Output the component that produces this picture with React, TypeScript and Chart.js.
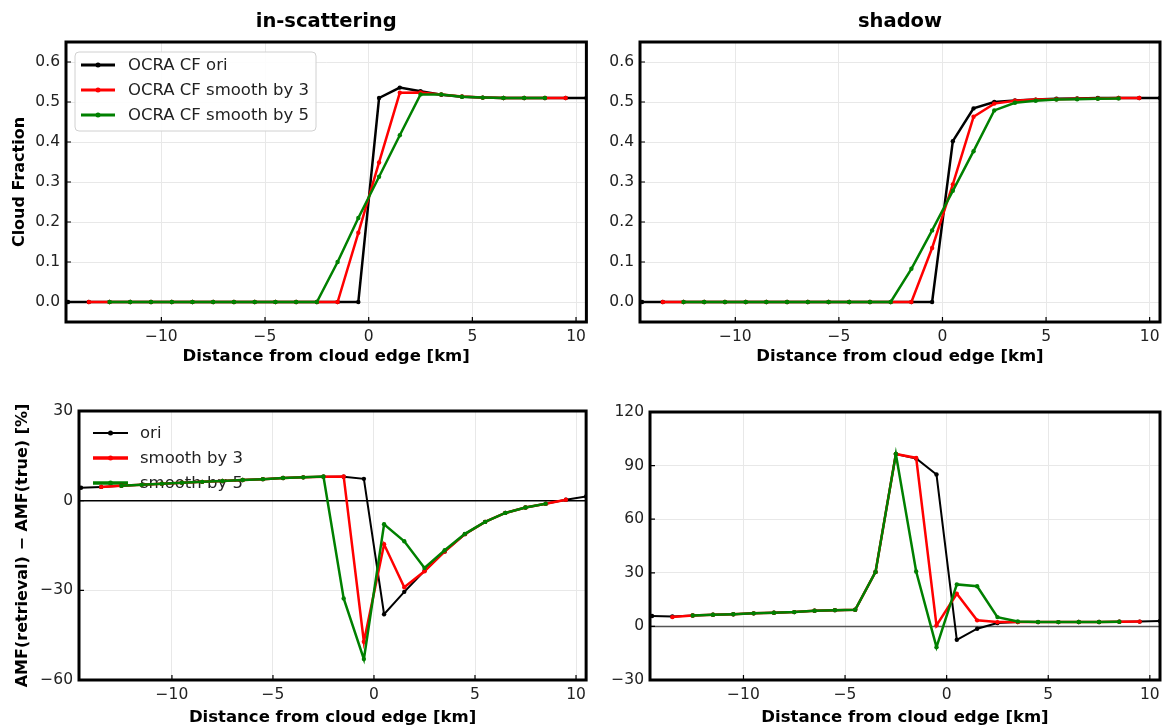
import React, { useEffect, useRef } from "react";
import { Chart, registerables } from "chart.js";

Chart.register(...registerables);

const FONT = "'DejaVu Sans', 'Liberation Sans', sans-serif";

// x positions (km from cloud edge) for each series
const X_ORI = [-14.5, -13.5, -12.5, -11.5, -10.5, -9.5, -8.5, -7.5, -6.5, -5.5, -4.5, -3.5, -2.5, -1.5, -0.5, 0.5, 1.5, 2.5, 3.5, 4.5, 5.5, 6.5, 7.5, 8.5, 9.5, 10.5];
const X_S3 = [-13.5, -12.5, -11.5, -10.5, -9.5, -8.5, -7.5, -6.5, -5.5, -4.5, -3.5, -2.5, -1.5, -0.5, 0.5, 1.5, 2.5, 3.5, 4.5, 5.5, 6.5, 7.5, 8.5, 9.5];
const X_S5 = [-12.5, -11.5, -10.5, -9.5, -8.5, -7.5, -6.5, -5.5, -4.5, -3.5, -2.5, -1.5, -0.5, 0.5, 1.5, 2.5, 3.5, 4.5, 5.5, 6.5, 7.5, 8.5];

// Cloud fraction, in-scattering
const CF_IN_ORI = [0, 0, 0, 0, 0, 0, 0, 0, 0, 0, 0, 0, 0, 0, 0, 0.51, 0.536, 0.527, 0.518, 0.513, 0.511, 0.51, 0.51, 0.51, 0.51, 0.51];
const CF_IN_S3 = [0, 0, 0, 0, 0, 0, 0, 0, 0, 0, 0, 0, 0, 0.173, 0.349, 0.523, 0.524, 0.519, 0.514, 0.511, 0.51, 0.51, 0.51, 0.51];
const CF_IN_S5 = [0, 0, 0, 0, 0, 0, 0, 0, 0, 0, 0, 0.1, 0.21, 0.313, 0.417, 0.519, 0.519, 0.513, 0.511, 0.51, 0.51, 0.51];

// Cloud fraction, shadow
const CF_SH_ORI = [0, 0, 0, 0, 0, 0, 0, 0, 0, 0, 0, 0, 0, 0, 0, 0.402, 0.484, 0.5, 0.504, 0.506, 0.508, 0.509, 0.51, 0.51, 0.51, 0.51];
const CF_SH_S3 = [0, 0, 0, 0, 0, 0, 0, 0, 0, 0, 0, 0, 0, 0.135, 0.294, 0.463, 0.496, 0.503, 0.506, 0.507, 0.508, 0.509, 0.51, 0.51];
const CF_SH_S5 = [0, 0, 0, 0, 0, 0, 0, 0, 0, 0, 0, 0.083, 0.179, 0.278, 0.377, 0.479, 0.498, 0.503, 0.506, 0.507, 0.508, 0.509];

// AMF error [%], in-scattering
const AMF_IN_ORI = [4.3, 4.6, 5.0, 5.3, 5.7, 6.0, 6.3, 6.6, 6.9, 7.2, 7.6, 7.8, 8.0, 8.0, 7.3, -38, -30.5, -23.5, -17, -11.2, -7.1, -4.1, -2.3, -1.0, 0.3, 1.4];
const AMF_IN_S3 = [4.6, 5.0, 5.3, 5.7, 6.0, 6.3, 6.6, 6.9, 7.2, 7.6, 7.8, 8.0, 8.1, -47.2, -14.6, -29, -23.6, -17, -11.2, -7.1, -4.1, -2.3, -1.0, 0.3];
const AMF_IN_S5 = [5.0, 5.3, 5.7, 6.0, 6.3, 6.6, 6.9, 7.2, 7.6, 7.8, 8.1, -32.7, -53, -7.9, -13.6, -22.5, -16.6, -11.1, -7.1, -4.1, -2.3, -1.0];

// AMF error [%], shadow
const AMF_SH_ORI = [5.8, 5.6, 6.1, 6.5, 6.8, 7.3, 7.6, 8.0, 8.8, 9.1, 9.3, 30.5, 96.5, 94, 85, -7.5, -1.3, 1.9, 2.4, 2.4, 2.4, 2.5, 2.5, 2.6, 2.7, 3.0];
const AMF_SH_S3 = [5.2, 6.1, 6.5, 6.8, 7.3, 7.6, 8.0, 8.8, 9.1, 9.3, 30.5, 96.5, 94.3, 0.6, 18.3, 3.4, 2.4, 2.4, 2.4, 2.4, 2.5, 2.5, 2.6, 2.7];
const AMF_SH_S5 = [6.1, 6.5, 6.8, 7.3, 7.6, 8.0, 8.8, 9.1, 9.3, 30.5, 96.5, 30.7, -11.6, 23.5, 22.5, 5.2, 2.8, 2.5, 2.4, 2.5, 2.5, 2.6];

const LEGEND_TOP = ["OCRA CF ori", "OCRA CF smooth by 3", "OCRA CF smooth by 5"];
const LEGEND_BOTTOM = ["ori", "smooth by 3", "smooth by 5"];
const COLORS = ["#000000", "#ff0000", "#008000"];

const X_TICKS = [-10, -5, 0, 5, 10];
const CF_TICKS = [0, 0.1, 0.2, 0.3, 0.4, 0.5, 0.6];
const AMF_IN_TICKS = [-60, -30, 0, 30];
const AMF_SH_TICKS = [-30, 0, 30, 60, 90, 120];

const X_TITLE = "Distance from cloud edge [km]";

function fmt(v: number, decimals: number) {
  return (decimals > 0 ? v.toFixed(decimals) : String(Math.round(v))).replace("-", "\u2212");
}

type LegendCfg = {
  labels: string[];
  widths: number[];
  frame: boolean;
  onTop: boolean;
  frameBox?: [number, number, number, number];
  rows: number[];
  lineX: [number, number];
  textX: number;
};

type PanelCfg = {
  left: number;
  top: number;
  w: number;
  h: number;
  title?: string;
  yTitle?: string;
  yTitlePad: number;
  yMin: number;
  yMax: number;
  yTicks: number[];
  decimals: number;
  xs: number[][];
  ys: number[][];
  lw: number[];
  yAxisW: number;
  padTop: number;
  padRight: number;
  xTitlePadBottom: number;
  zero: boolean;
  zeroColor: string;
  legend?: LegendCfg;
};

function drawLegend(chart: any, L: LegendCfg) {
  const ctx = chart.ctx as CanvasRenderingContext2D;
  const ca = chart.chartArea;
  ctx.save();
  if (L.frame && L.frameBox) {
    const [dx, dy, w, h] = L.frameBox;
    const x = ca.left + dx;
    const y = ca.top + dy;
    const r = 4;
    ctx.beginPath();
    ctx.moveTo(x + r, y);
    ctx.lineTo(x + w - r, y);
    ctx.quadraticCurveTo(x + w, y, x + w, y + r);
    ctx.lineTo(x + w, y + h - r);
    ctx.quadraticCurveTo(x + w, y + h, x + w - r, y + h);
    ctx.lineTo(x + r, y + h);
    ctx.quadraticCurveTo(x, y + h, x, y + h - r);
    ctx.lineTo(x, y + r);
    ctx.quadraticCurveTo(x, y, x + r, y);
    ctx.closePath();
    ctx.fillStyle = "rgba(255,255,255,0.9)";
    ctx.fill();
    ctx.strokeStyle = "#d0d0d0";
    ctx.lineWidth = 1;
    ctx.stroke();
  }
  L.labels.forEach((label, i) => {
    const y = ca.top + L.rows[i];
    const x0 = ca.left + L.lineX[0];
    const x1 = ca.left + L.lineX[1];
    ctx.strokeStyle = COLORS[i];
    ctx.lineWidth = L.widths[i];
    ctx.beginPath();
    ctx.moveTo(x0, y);
    ctx.lineTo(x1, y);
    ctx.stroke();
    ctx.fillStyle = COLORS[i];
    ctx.beginPath();
    ctx.arc((x0 + x1) / 2, y, 2.5, 0, Math.PI * 2);
    ctx.fill();
    ctx.fillStyle = "#222";
    ctx.font = `16.5px ${FONT}`;
    ctx.textBaseline = "middle";
    ctx.textAlign = "left";
    ctx.fillText(label, ca.left + L.textX, y + 1);
  });
  ctx.restore();
}

function makeDeco(cfg: PanelCfg) {
  return {
    id: "deco",
    beforeDatasetsDraw(chart: any) {
      const ctx = chart.ctx as CanvasRenderingContext2D;
      const ca = chart.chartArea;
      if (cfg.zero) {
        const y = chart.scales.y.getPixelForValue(0);
        ctx.save();
        ctx.strokeStyle = cfg.zeroColor;
        ctx.lineWidth = 1.5;
        ctx.beginPath();
        ctx.moveTo(ca.left, y);
        ctx.lineTo(ca.right, y);
        ctx.stroke();
        ctx.restore();
      }
      if (cfg.legend && !cfg.legend.onTop) drawLegend(chart, cfg.legend);
    },
    afterDatasetsDraw(chart: any) {
      if (cfg.legend && cfg.legend.onTop) drawLegend(chart, cfg.legend);
    },
    afterDraw(chart: any) {
      const ctx = chart.ctx as CanvasRenderingContext2D;
      const ca = chart.chartArea;
      ctx.save();
      ctx.strokeStyle = "#000";
      ctx.lineWidth = 1.2;
      ctx.beginPath();
      X_TICKS.forEach((v) => {
        const px = chart.scales.x.getPixelForValue(v);
        ctx.moveTo(px, ca.bottom);
        ctx.lineTo(px, ca.bottom - 5);
      });
      cfg.yTicks.forEach((v) => {
        const py = chart.scales.y.getPixelForValue(v);
        ctx.moveTo(ca.left, py);
        ctx.lineTo(ca.left + 5, py);
      });
      ctx.stroke();
      ctx.lineWidth = 3;
      ctx.strokeRect(ca.left, ca.top, ca.right - ca.left, ca.bottom - ca.top);
      ctx.restore();
    },
  };
}

function buildConfig(cfg: PanelCfg): any {
  const datasets = cfg.ys.map((ys, i) => ({
    label: (cfg.legend ? cfg.legend.labels : LEGEND_BOTTOM)[i],
    data: cfg.xs[i].map((x, j) => ({ x, y: ys[j] })),
    borderColor: COLORS[i],
    backgroundColor: COLORS[i],
    borderWidth: cfg.lw[i],
    pointRadius: 2.2,
    pointBorderWidth: 0,
    pointBackgroundColor: COLORS[i],
    tension: 0,
    order: 3 - i,
  }));
  return {
    type: "line",
    data: { datasets },
    plugins: [makeDeco(cfg)],
    options: {
      responsive: false,
      animation: false,
      layout: { padding: { left: 0, right: cfg.padRight, top: cfg.padTop, bottom: 0 } },
      plugins: {
        legend: { display: false },
        tooltip: { enabled: false },
        title: {
          display: !!cfg.title,
          text: cfg.title || "",
          fullSize: false,
          color: "#000",
          font: { family: FONT, size: 19.5, weight: "bold", lineHeight: 1.2 },
          padding: { top: 10, bottom: 8.6 },
        },
      },
      scales: {
        x: {
          type: "linear",
          min: -14.6,
          max: 10.5,
          afterBuildTicks: (s: any) => {
            s.ticks = X_TICKS.map((v) => ({ value: v }));
          },
          afterFit: (s: any) => {
            s.height = cfg.h - (cfg.top === 0 ? 322 : 312);
          },
          grid: { color: "#e8e8e8", lineWidth: 1, drawTicks: false },
          border: { display: false },
          ticks: {
            autoSkip: false,
            maxRotation: 0,
            padding: 6,
            color: "#222",
            font: { family: FONT, size: 15.5 },
            callback: (v: any) => fmt(Number(v), 0),
          },
          title: {
            display: true,
            text: X_TITLE,
            color: "#000",
            font: { family: FONT, size: 16.5, weight: "bold", lineHeight: 1 },
            padding: { top: 0, bottom: cfg.xTitlePadBottom },
          },
        },
        y: {
          type: "linear",
          min: cfg.yMin,
          max: cfg.yMax,
          afterBuildTicks: (s: any) => {
            s.ticks = cfg.yTicks.map((v) => ({ value: v }));
          },
          afterFit: (s: any) => {
            s.width = cfg.yAxisW;
          },
          grid: { color: "#e8e8e8", lineWidth: 1, drawTicks: false },
          border: { display: false },
          ticks: {
            padding: 6,
            color: "#222",
            font: { family: FONT, size: 15.5 },
            callback: (v: any) => fmt(Number(v), cfg.decimals),
          },
          title: {
            display: !!cfg.yTitle,
            text: cfg.yTitle || "",
            color: "#000",
            font: { family: FONT, size: 16, weight: "bold", lineHeight: 1.2 },
            padding: { top: cfg.yTitlePad, bottom: 0 },
          },
        },
      },
    },
  };
}

const PANELS: PanelCfg[] = [
  {
    left: 0, top: 0, w: 592, h: 368,
    title: "in-scattering", yTitle: "Cloud Fraction", yTitlePad: 10,
    yMin: -0.05, yMax: 0.65, yTicks: CF_TICKS, decimals: 1,
    xs: [X_ORI, X_S3, X_S5], ys: [CF_IN_ORI, CF_IN_S3, CF_IN_S5], lw: [2.5, 2.5, 2.5],
    yAxisW: 66, padTop: 0, padRight: 4, xTitlePadBottom: 3, zero: false, zeroColor: "#000",
    legend: {
      labels: LEGEND_TOP, widths: [3, 3, 3], frame: true, onTop: true,
      frameBox: [9, 10, 241, 79], rows: [23, 48, 73], lineX: [15, 49], textX: 62,
    },
  },
  {
    left: 592, top: 0, w: 590, h: 368,
    title: "shadow", yTitlePad: 10,
    yMin: -0.05, yMax: 0.65, yTicks: CF_TICKS, decimals: 1,
    xs: [X_ORI, X_S3, X_S5], ys: [CF_SH_ORI, CF_SH_S3, CF_SH_S5], lw: [2.5, 2.5, 2.5],
    yAxisW: 48, padTop: 0, padRight: 22, xTitlePadBottom: 3, zero: false, zeroColor: "#000",
  },
  {
    left: 0, top: 368, w: 592, h: 358,
    yTitle: "AMF(retrieval) \u2212 AMF(true) [%]", yTitlePad: 13,
    yMin: -60, yMax: 30, yTicks: AMF_IN_TICKS, decimals: 0,
    xs: [X_ORI, X_S3, X_S5], ys: [AMF_IN_ORI, AMF_IN_S3, AMF_IN_S5], lw: [2, 2.5, 2.5],
    yAxisW: 79, padTop: 43, padRight: 4, xTitlePadBottom: 0, zero: true, zeroColor: "#000",
    legend: {
      labels: LEGEND_BOTTOM, widths: [2, 3.5, 3.5], frame: false, onTop: false,
      rows: [22, 47, 72], lineX: [14, 49], textX: 61,
    },
  },
  {
    left: 592, top: 368, w: 590, h: 358, yTitlePad: 10,
    yMin: -30, yMax: 120, yTicks: AMF_SH_TICKS, decimals: 0,
    xs: [X_ORI, X_S3, X_S5], ys: [AMF_SH_ORI, AMF_SH_S3, AMF_SH_S5], lw: [2, 2.5, 2.5],
    yAxisW: 58, padTop: 44, padRight: 22, xTitlePadBottom: 0, zero: true, zeroColor: "#555",
  },
];

function Panel({ cfg }: { cfg: PanelCfg }) {
  const ref = useRef<HTMLCanvasElement | null>(null);
  useEffect(() => {
    if (!ref.current) return;
    const chart = new Chart(ref.current, buildConfig(cfg));
    return () => chart.destroy();
  }, [cfg]);
  return (
    <canvas
      ref={ref}
      width={cfg.w}
      height={cfg.h}
      style={{ position: "absolute", left: cfg.left, top: cfg.top, width: cfg.w, height: cfg.h }}
    />
  );
}

export default function App() {
  return (
    <div
      style={{
        position: "absolute",
        left: 0,
        top: 0,
        width: 1162,
        height: 726,
        overflow: "hidden",
        background: "#ffffff",
      }}
    >
      {PANELS.map((p, i) => (
        <Panel key={i} cfg={p} />
      ))}
    </div>
  );
}
